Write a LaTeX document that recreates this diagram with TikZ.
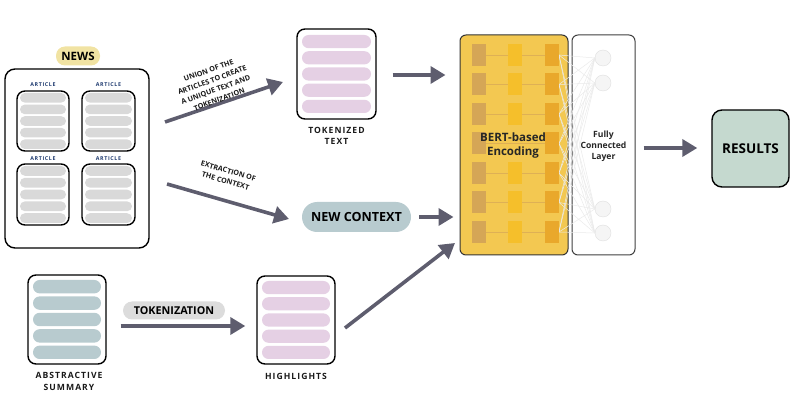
\documentclass[tikz,border=0pt]{standalone}
\usepackage{fontspec}
\setmainfont{Open Sans}
\newfontfamily\spc[LetterSpace=12]{Open Sans}
\usetikzlibrary{arrows.meta,calc}
\definecolor{arrowgray}{HTML}{5E5D6E}
\definecolor{barpink}{HTML}{E5D0E4}
\definecolor{barblue}{HTML}{B8CBCF}
\definecolor{bargray}{HTML}{D9D9D9}
\definecolor{newsyellow}{HTML}{F1E3A3}
\definecolor{bertyellow}{HTML}{F3C851}
\definecolor{colA}{HTML}{D5A656}
\definecolor{colB}{HTML}{F5BF2B}
\definecolor{colC}{HTML}{E9A82B}
\definecolor{resgreen}{HTML}{C5D9CF}
\definecolor{tokgray}{HTML}{DCDCDC}
\definecolor{artblue}{HTML}{1F3B70}
\newcommand\stackbox[9]{%
  \pgfmathsetmacro\sbw{#4-#2}%
  \pgfmathsetmacro\sbh{#5-#3}%
  \node[boxline, minimum width=\sbw pt, minimum height=\sbh pt] (#1) at ({(#2+#4)/2},{(#3+#5)/2}) {};
  \pgfmathsetmacro\barh{(\sbh-2*#8-4*#9)/5}%
  \pgfmathsetmacro\barr{\barh/2-0.01}%
  \foreach \i in {0,...,4}{%
    \pgfmathsetmacro\by{#3+#8+\i*(\barh+#9)}%
    \fill[#6, rounded corners=\barr pt] ({#2+#7},\by) rectangle ({#4-#7},{\by+\barh});
  }%
}
\begin{document}
\begin{tikzpicture}[x=1pt,y=-1pt,
  boxline/.style={draw=black, line width=1.4pt, rounded corners=8pt, fill=white, inner sep=0pt},
  arr/.style={draw=arrowgray, line width=3.6pt, -{Triangle[length=15pt,width=17pt]}},
  caption/.style={font=\spc\bfseries\fontsize{8.6}{11.5}\selectfont, align=center, text=black!90},
  artlbl/.style={font=\spc\bfseries\fontsize{5.3}{6}\selectfont, text=artblue},
  pill/.style={rounded corners=9pt, inner sep=0pt, font=\bfseries},
  neuron/.style={circle, draw=black!12, fill=black!4, minimum size=16pt, inner sep=0pt},
  wire/.style={draw=black!8, line width=0.5pt},
  slanted/.style={font=\bfseries\fontsize{7.2}{10.4}\selectfont, align=center, text=black!90, inner sep=1pt}
]
\useasboundingbox (0,0) rectangle (796,414);

% ---------- NEWS ----------
\node[boxline, rounded corners=10pt, minimum width=144pt, minimum height=179pt] (news) at (77,158.5) {};
\node[pill, fill=newsyellow, minimum width=44pt, minimum height=19pt, font=\bfseries\fontsize{11.5}{12}\selectfont] (newslbl) at (78,56) {NEWS};
\node[artlbl] (artA) at (43,85) {ARTICLE};
\node[artlbl] (artB) at (108.5,85) {ARTICLE};
\node[artlbl] (artC) at (43,158.5) {ARTICLE};
\node[artlbl] (artD) at (108.5,158.5) {ARTICLE};
\stackbox{a1}{17}{91}{69}{151}{bargray}{3}{2}{2}
\stackbox{a2}{82}{91}{135}{151}{bargray}{3}{2}{2}
\stackbox{a3}{17}{164}{69}{225}{bargray}{3}{2}{2}
\stackbox{a4}{82}{164}{135}{225}{bargray}{3}{2}{2}

% ---------- Tokenized text ----------
\stackbox{tok}{297}{29}{376}{119}{barpink}{5}{6}{3}
\node[caption] (toklbl) at (336.5,136) {TOKENIZED\\TEXT};

% ---------- Abstractive summary ----------
\stackbox{abs}{28}{275}{106}{364}{barblue}{5}{5}{3}
\node[caption] (abslbl) at (69,381.5) {ABSTRACTIVE\\SUMMARY};

% ---------- Highlights ----------
\stackbox{hl}{257}{276}{335}{364}{barpink}{5}{5}{3}
\node[caption] (hllbl) at (296,376.5) {HIGHLIGHTS};

% ---------- New context ----------
\node[pill, rounded corners=15pt, fill=barblue, minimum width=109pt, minimum height=30pt, font=\bfseries\fontsize{12.6}{14}\selectfont] (ctx) at (356.5,217) {NEW CONTEXT};

% ---------- Tokenization pill ----------
\node[pill, fill=tokgray, minimum width=102pt, minimum height=18pt, rounded corners=9pt, font=\bfseries\fontsize{10.8}{12}\selectfont] (tokpill) at (174,310.5) {TOKENIZATION};

% ---------- BERT ----------
\node[draw=black!80, line width=1pt, fill=bertyellow, rounded corners=6pt, minimum width=108pt, minimum height=220pt, inner sep=0pt] (bert) at (514,145) {};
\node[draw=black!75, line width=1pt, fill=white, rounded corners=6pt, minimum width=63pt, minimum height=220pt, inner sep=0pt] (fc) at (603.5,145) {};
% neurons
\foreach \ny [count=\k] in {58,83,209,233}{
  \node[neuron] (n\k) at (603,\ny) {};
}
% wires BERT -> neurons
\foreach \r in {0,...,6}{
  \pgfmathsetmacro\cy{55+\r*29.5}
  \foreach \k in {1,...,4}{
    \draw[wire] (559,\cy) -- (n\k.west);
  }
  \draw[draw=colA!70!bertyellow, line width=0.6pt] (479,\cy) -- (552,\cy);
}
\foreach \r in {0,...,6}{
  \pgfmathsetmacro\cy{55+\r*29.5}
  \fill[colA] (472,\cy-11) rectangle (486,\cy+11);
  \ifnum\r=3\else\fill[colB] (507.5,\cy-11) rectangle (522,\cy+11);\fi
  \fill[colC] (544.5,\cy-11) rectangle (559,\cy+11);
}
\node[font=\bfseries\fontsize{11.5}{14}\selectfont, align=center, text=black!85] (bertlbl) at (513,146) {BERT-based\\Encoding};
\node[font=\bfseries\fontsize{8.6}{11}\selectfont, align=center, text=black!85] (fclbl) at (603.5,146) {Fully\\Connected\\Layer};

% ---------- Results ----------
\node[boxline, rounded corners=10pt, fill=resgreen, minimum width=77pt, minimum height=77pt, font=\bfseries\fontsize{13.5}{15}\selectfont] (res) at (750.5,148.5) {RESULTS};

% ---------- Arrows ----------
\coordinate (u1) at (165,122);
\coordinate (u2) at (283,82);
\draw[arr] (u1) -- (u2);
\node[slanted, rotate=20] (unionlbl) at (214,85) {UNION OF THE\\ARTICLES TO CREATE\\A UNIQUE TEXT AND\\TOKENIZATION};
\coordinate (e1) at (167,184);
\coordinate (e2) at (289,219);
\draw[arr] (e1) -- (e2);
\node[slanted, rotate=-16] (extlbl) at (227,176) {EXTRACTION OF\\THE CONTEXT};

\draw[arr, shorten <=16pt, shorten >=14pt] (tok.east |- 0,75) -- (bert.west |- 0,75);
\draw[arr, shorten <=8pt, shorten >=6pt] (ctx.east) -- (ctx.east -| bert.west);
\coordinate (h1) at (345,328);
\coordinate (h2) at (455,243);
\draw[arr] (h1) -- (h2);
\draw[arr, shorten <=14pt, shorten >=11pt] (abs.east |- 0,326) -- (hl.west |- 0,326);
\draw[arr, shorten <=8pt, shorten >=14pt] (fc.east |- 0,148) -- (res.west |- 0,148);
\end{tikzpicture}
\end{document}
